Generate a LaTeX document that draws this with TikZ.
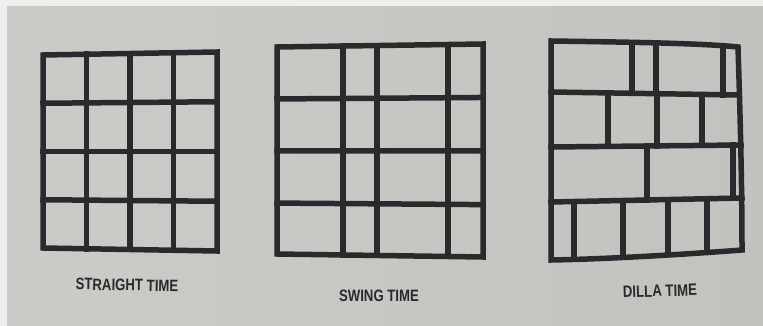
\documentclass[tikz,border=0pt]{standalone}
\usepackage{fontspec}
\newfontfamily\labfont[FakeStretch=0.8]{Liberation Sans}
\usetikzlibrary{calc}
\definecolor{paper}{HTML}{CBCCC8}
\definecolor{paperdark}{HTML}{C2C3BF}
\definecolor{ink}{HTML}{2A2A2C}
\definecolor{margin}{HTML}{EEEEEE}
\tikzset{
  gridline/.style={draw=ink, line width=5.5pt, line cap=rect, line join=miter},
  caption/.style={font=\labfont\bfseries\fontsize{16.5}{16.5}\selectfont, text=ink, inner sep=0pt}
}
\begin{document}
\begin{tikzpicture}[x=1pt,y=-1pt]
% page background
\fill[margin] (0,0) rectangle (763,326);
\shade[left color=paper, right color=paperdark] (7,7) rectangle (763,326);
\useasboundingbox (0,0) rectangle (763,326);

% ---------- STRAIGHT TIME ----------
\coordinate (aTL) at (43,55);  \coordinate (aTR) at (217,52);
\coordinate (aBL) at (43,248); \coordinate (aBR) at (217,251);
\foreach \t in {0.25,0.5,0.75}{
  \draw[gridline] ($(aTL)!\t!(aTR)$) -- ($(aBL)!\t!(aBR)$);
  \draw[gridline] ($(aTL)!\t!(aBL)$) -- ($(aTR)!\t!(aBR)$);
}
\draw[gridline] (aTL) -- (aTR) -- (aBR) -- (aBL) -- cycle;

% ---------- SWING TIME ----------
\coordinate (bTL) at (277,47);  \coordinate (bTR) at (483,44);
\coordinate (bBL) at (277,254); \coordinate (bBR) at (483,257);
\foreach \t in {0.32,0.485,0.83}{
  \draw[gridline] ($(bTL)!\t!(bTR)$) -- ($(bBL)!\t!(bBR)$);
}
\foreach \t in {0.251,0.502,0.754}{
  \draw[gridline] ($(bTL)!\t!(bBL)$) -- ($(bTR)!\t!(bBR)$);
}
\draw[gridline] (bTL) -- (bTR) -- (bBR) -- (bBL) -- cycle;

% ---------- DILLA TIME ----------
\coordinate (cTL) at (551,41);  \coordinate (cTR) at (738,47);
\coordinate (cBL) at (551,260); \coordinate (cBR) at (742,250);
\coordinate (cR1) at (551,92);  \coordinate (cR1e) at (739,95);
\coordinate (cR2) at (551,147); \coordinate (cR2e) at (741,145);
\coordinate (cR3) at (551,202); \coordinate (cR3e) at (742,198);
% row dividers
\draw[gridline] (cR1) -- (cR1e);
\draw[gridline] (cR2) -- (cR2e);
\draw[gridline] (cR3) -- (cR3e);
% row 1
\draw[gridline] (632,43.6) -- (632,93.3);
\draw[gridline] (656,44.4) -- (656,93.7);
\draw[gridline] (723,46.5) -- (723,94.8);
% row 2
\draw[gridline] (608,92.9) -- (608,146.4);
\draw[gridline] (657,93.7) -- (657,145.9);
\draw[gridline] (702,94.4) -- (702,145.4);
% row 3
\draw[gridline] (647,146) -- (647,200);
\draw[gridline] (733,145.1) -- (733,198.2);
% row 4
\draw[gridline] (574,201.5) -- (574,259.5);
\draw[gridline] (623,200.5) -- (623,257);
\draw[gridline] (668,199.5) -- (668,254.5);
\draw[gridline] (707,198.7) -- (707,252);
% outline
\draw[gridline] (cTL) .. controls (620,42) and (700,43) .. (cTR)
  .. controls (740,110) and (742,180) .. (cBR)
  .. controls (690,254) and (610,259) .. (cBL) -- cycle;

% ---------- captions ----------
\node[caption, rotate=-1] (lab1) at (127,285) {STRAIGHT TIME};
\node[caption] (lab2) at (379,296) {SWING TIME};
\node[caption, rotate=2] (lab3) at (660,291) {DILLA TIME};
\end{tikzpicture}
\end{document}
